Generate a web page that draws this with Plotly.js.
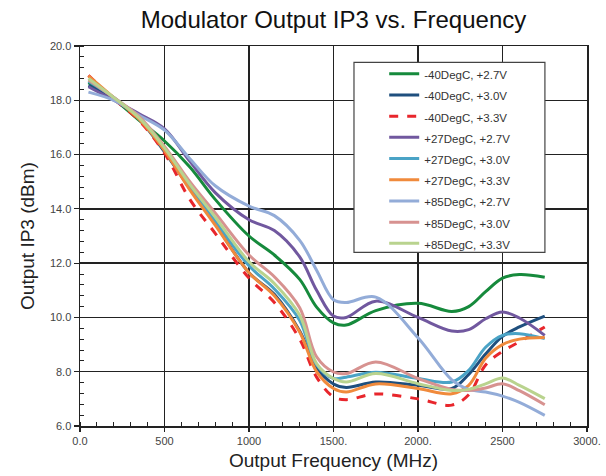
<!DOCTYPE html>
<html>
<head>
<meta charset="utf-8">
<script src="https://cdn.plot.ly/plotly-3.0.1.min.js"></script>
<style>html,body{margin:0;padding:0;background:#fff;}#chart{width:606px;height:476px;}</style>
</head>
<body>
<div id="chart"></div>
<script>
// Output frequency (MHz)
const freq = [50, 200, 350, 500, 650, 800, 1000, 1150, 1300, 1400, 1500, 1575, 1750, 2000, 2200, 2300, 2400, 2500, 2600, 2750];

// Output IP3 (dBm) per condition
const m40_27 = [18.65, 18.05, 17.26, 16.5, 15.54, 14.35, 13.0, 12.3, 11.4, 10.38, 9.8, 9.72, 10.25, 10.52, 10.22, 10.4, 10.95, 11.45, 11.58, 11.48];
const m40_30 = [18.55, 18.05, 17.3, 16.1, 14.75, 13.45, 11.65, 10.85, 9.5, 8.15, 7.55, 7.42, 7.62, 7.5, 7.38, 7.9, 8.65, 9.3, 9.65, 10.05];
const m40_33 = [18.92, 18.05, 17.25, 16.05, 14.35, 13.1, 11.45, 10.55, 9.2, 7.8, 7.07, 6.97, 7.18, 7.0, 6.77, 7.15, 8.25, 8.75, 9.1, 9.65];
const p27_27 = [18.5, 18.0, 17.5, 16.95, 15.75, 14.6, 13.6, 13.2, 12.23, 11.0, 10.05, 10.0, 10.6, 10.0, 9.5, 9.55, 9.95, 10.2, 9.98, 9.34];
const p27_30 = [18.7, 18.1, 17.35, 16.2, 14.8, 13.55, 11.9, 11.05, 9.89, 8.25, 7.75, 7.8, 7.98, 7.75, 7.62, 8.05, 8.9, 9.34, 9.4, 9.22];
const p27_33 = [18.9, 18.1, 17.3, 16.15, 14.7, 13.4, 11.65, 10.8, 9.46, 8.0, 7.38, 7.25, 7.55, 7.38, 7.19, 7.5, 8.5, 9.0, 9.2, 9.26];
const p85_27 = [18.3, 18.0, 17.45, 16.9, 15.85, 14.85, 14.1, 13.75, 12.84, 11.74, 10.65, 10.55, 10.75, 9.25, 7.7, 7.35, 7.25, 7.1, 6.87, 6.39];
const p85_30 = [18.75, 18.1, 17.4, 16.3, 15.0, 13.85, 12.3, 11.5, 10.36, 8.55, 7.99, 7.93, 8.36, 7.75, 7.35, 7.31, 7.4, 7.56, 7.3, 6.78];
const p85_33 = [18.8, 18.1, 17.35, 16.25, 14.9, 13.7, 12.05, 11.25, 10.08, 8.3, 7.75, 7.62, 7.93, 7.56, 7.31, 7.35, 7.55, 7.77, 7.5, 7.01];

const seriesNames = ['-40DegC, +2.7V', '-40DegC, +3.0V', '-40DegC, +3.3V',
  '+27DegC, +2.7V', '+27DegC, +3.0V', '+27DegC, +3.3V',
  '+85DegC, +2.7V', '+85DegC, +3.0V', '+85DegC, +3.3V'];
const seriesValues = [m40_27, m40_30, m40_33, p27_27, p27_30, p27_33, p85_27, p85_30, p85_33];
const seriesColors = ['#168a3c', '#1f4f7e', '#e8262c', '#71589f', '#4aa3c6', '#f08a3c', '#93acd8', '#d79290', '#b9d38e'];
const seriesDash = ['solid', 'solid', 'dash', 'solid', 'solid', 'solid', 'solid', 'solid', 'solid'];

const xTickVals = [0, 500, 1000, 1500, 2000, 2500, 3000];
const xTickText = ['0.0', '500', '1000', '1500.', '2000.', '2500', '3000.'];
const yTickVals = [6, 8, 10, 12, 14, 16, 18, 20];
const yTickText = ['6.0', '8.0', '10.0', '12.0', '14.0', '16.0', '18.0', '20.0'];

const traces = seriesNames.map((n, i) => ({
  type: 'scatter', mode: 'lines', x: freq, y: seriesValues[i],
  name: '<span style="font-size:11.5px">' + n + '</span>',
  line: {color: seriesColors[i], width: 3, shape: 'spline', smoothing: 1, dash: seriesDash[i]}
}));

const axisFont = {family: 'Liberation Sans, Arial, sans-serif', size: 11, color: '#444'};
const layout = {
  width: 606, height: 476,
  margin: {l: 80, r: 19, t: 46, b: 50, pad: 0},
  paper_bgcolor: '#fff', plot_bgcolor: '#fff',
  showlegend: true,
  title: {text: 'Modulator Output IP3 vs. Frequency', x: 0.5, xref: 'paper', y: 0.958, yanchor: 'middle',
    font: {family: 'Liberation Sans, Arial, sans-serif', size: 24, color: '#111'}},
  xaxis: {
    range: [0, 3000], tickvals: xTickVals, ticktext: xTickText, tickfont: axisFont,
    showgrid: true, gridcolor: '#222', gridwidth: 1.5,
    showline: true, linecolor: '#222', linewidth: 1.5, mirror: true,
    ticks: 'outside', ticklen: 4, tickcolor: '#222', tickwidth: 1.2,
    minor: {dtick: 100, tick0: 0, ticks: 'inside', ticklen: 4, tickcolor: '#222', tickwidth: 1, showgrid: false},
    zeroline: false,
    title: {text: 'Output Frequency (MHz)', font: {family: 'Liberation Sans, Arial, sans-serif', size: 19, color: '#222'}, standoff: 8}
  },
  yaxis: {
    range: [6, 20], tickvals: yTickVals, ticktext: yTickText, tickfont: axisFont,
    showgrid: true, gridcolor: '#222', gridwidth: 1.5,
    showline: true, linecolor: '#222', linewidth: 1.5, mirror: true,
    ticks: 'outside', ticklen: 5, tickcolor: '#222', tickwidth: 1.2,
    minor: {dtick: 0.4, tick0: 6, ticks: 'inside', ticklen: 4, tickcolor: '#222', tickwidth: 1, showgrid: false},
    zeroline: false,
    title: {text: 'Output IP3 (dBm)', font: {family: 'Liberation Sans, Arial, sans-serif', size: 19, color: '#222'}, standoff: 10}
  },
  legend: {
    x: 0.60, y: 0.968, xanchor: 'left', yanchor: 'top',
    bgcolor: 'rgba(0,0,0,0)', borderwidth: 0, itemwidth: 30,
    font: {family: 'Liberation Sans, Arial, sans-serif', size: 14, color: '#333'},
    tracegroupgap: 0
  },
  shapes: [{type: 'rect', xref: 'paper', yref: 'paper', x0: 0.5404, x1: 0.917, y0: 0.457, y1: 0.957,
    line: {color: '#444', width: 1.2}, fillcolor: '#fff', layer: 'above'}]
};

Plotly.newPlot('chart', traces, layout, {displayModeBar: false, staticPlot: true});
</script>
</body>
</html>
